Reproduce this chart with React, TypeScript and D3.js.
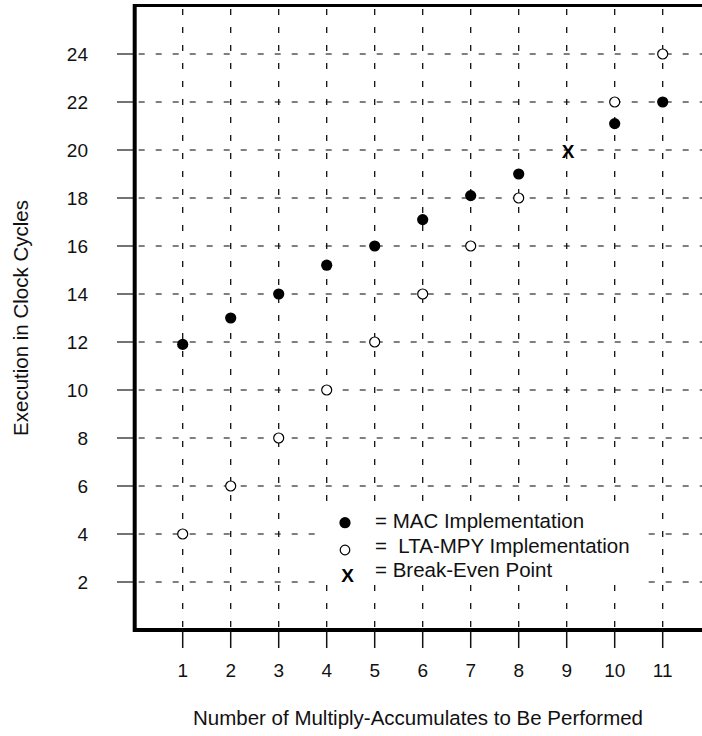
import React from "react";
import * as d3 from "d3";

const xTicks = [1, 2, 3, 4, 5, 6, 7, 8, 9, 10, 11];
const yTicks = [2, 4, 6, 8, 10, 12, 14, 16, 18, 20, 22, 24];

const macX = [1, 2, 3, 4, 5, 6, 7, 8, 10, 11];
const macY = [11.9, 13, 14, 15.2, 16, 17.1, 18.1, 19, 21.1, 22];

const ltaX = [1, 2, 3, 4, 5, 6, 7, 8, 10, 11];
const ltaY = [4, 6, 8, 10, 12, 14, 16, 18, 22, 24];

const breakEven = [{ x: 9, y: 20 }];

const legendItems = ["= MAC Implementation", "=  LTA-MPY Implementation", "= Break-Even Point"];

const xTitle = "Number of Multiply-Accumulates to Be Performed";
const yTitle = "Execution in Clock Cycles";

export default function App() {
  const W = 702;
  const H = 736;
  const left = 134.7;
  const right = 702;
  const top = 6;
  const bottom = 630;
  const x = d3.scaleLinear().domain([0, 12]).range([left, left + 48 * 12]);
  const y = d3.scaleLinear().domain([0, 26]).range([bottom, bottom - 24 * 26]);
  const font = "Liberation Sans, Arial, Helvetica, sans-serif";

  return (
    <div style={{ position: "fixed", left: 0, top: 0 }}>
      <svg width={W} height={H} style={{ display: "block", background: "#fff" }} fontFamily={font}>
        {/* horizontal grid */}
        {yTicks.map((t) => (
          <line key={"hg" + t} x1={left} x2={right} y1={y(t)} y2={y(t)} stroke="#555" strokeWidth={1.5} strokeDasharray="6,11" strokeDashoffset={-4} />
        ))}
        {/* vertical grid */}
        {xTicks.map((t) => (
          <line key={"vg" + t} x1={x(t)} x2={x(t)} y1={top} y2={bottom} stroke="#111" strokeWidth={1.3} strokeDasharray="6,12" strokeDashoffset={-3} />
        ))}
        {/* legend mask */}
        <rect x={318} y={503} width={327} height={82} fill="#fff" />
        {/* y ticks */}
        {yTicks.map((t) => (
          <g key={"yt" + t}>
            <line x1={117} x2={left} y1={y(t)} y2={y(t)} stroke="#444" strokeWidth={1.5} />
            <text x={88} y={y(t)} dy="0.36em" textAnchor="end" fontSize={19} fill="#111">{t}</text>
          </g>
        ))}
        {/* x ticks */}
        {xTicks.map((t) => (
          <g key={"xt" + t}>
            <line x1={x(t)} x2={x(t)} y1={bottom} y2={648} stroke="#111" strokeWidth={1.5} />
            <text x={x(t)} y={677} textAnchor="middle" fontSize={19} fill="#111">{t}</text>
          </g>
        ))}
        {/* borders */}
        <line x1={133} x2={right} y1={5.5} y2={5.5} stroke="#000" strokeWidth={3} />
        <line x1={133} x2={right} y1={bottom} y2={bottom} stroke="#000" strokeWidth={4} />
        <line x1={left} x2={left} y1={4} y2={632} stroke="#000" strokeWidth={4} />
        {/* data */}
        {ltaX.map((v, i) => (
          <circle key={"l" + i} cx={x(v)} cy={y(ltaY[i])} r={5} fill="#fff" stroke="#000" strokeWidth={1.2} />
        ))}
        {macX.map((v, i) => (
          <circle key={"m" + i} cx={x(v)} cy={y(macY[i])} r={5.6} fill="#000" />
        ))}
        {breakEven.map((p, i) => (
          <text key={"b" + i} x={x(p.x) + 1.5} y={y(p.y) + 1.5} dy="0.36em" textAnchor="middle" fontSize={19} fontWeight="bold" fill="#000">X</text>
        ))}
        {/* legend */}
        <circle cx={345} cy={522.7} r={5.6} fill="#000" />
        <circle cx={345} cy={550} r={4.8} fill="#fff" stroke="#000" strokeWidth={1.2} />
        <text x={347.5} y={575} dy="0.36em" textAnchor="middle" fontSize={19} fontWeight="bold">X</text>
        {legendItems.map((s, i) => (
          <text key={"lg" + i} x={375} y={528 + i * 24.5} fontSize={20.5} fill="#111" style={{ whiteSpace: "pre" }}>{s}</text>
        ))}
        {/* titles */}
        <text x={418} y={725} textAnchor="middle" fontSize={20.5} fill="#111">{xTitle}</text>
        <text transform={`translate(28,318) rotate(-90)`} textAnchor="middle" fontSize={20.5} fill="#111">{yTitle}</text>
      </svg>
    </div>
  );
}
